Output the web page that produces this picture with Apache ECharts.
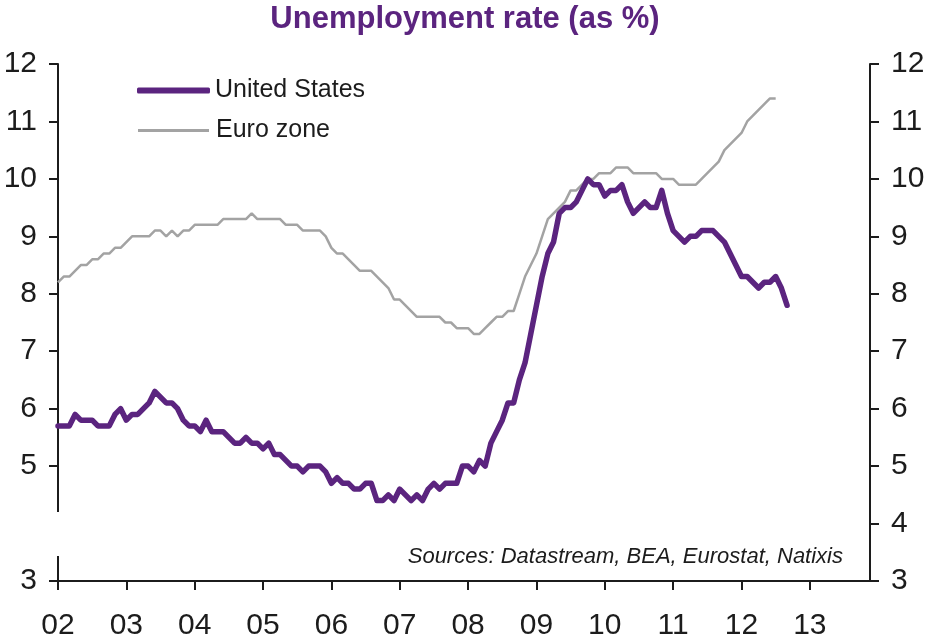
<!DOCTYPE html>
<html>
<head>
<meta charset="utf-8">
<script src="https://cdn.jsdelivr.net/npm/echarts@6/dist/echarts.min.js"></script>
<style>
  html, body { margin: 0; padding: 0; background: #fff; }
  #chart { width: 930px; height: 642px; }
</style>
</head>
<body>
<div id="chart"></div>
<script>
// monthly data, Jan 2002 onwards
const startYear = 2002
const usRate = [
  5.7, 5.7, 5.7, 5.9, 5.8, 5.8, 5.8, 5.7, 5.7, 5.7, 5.9, 6.0,
  5.8, 5.9, 5.9, 6.0, 6.1, 6.3, 6.2, 6.1, 6.1, 6.0, 5.8, 5.7,
  5.7, 5.6, 5.8, 5.6, 5.6, 5.6, 5.5, 5.4, 5.4, 5.5, 5.4, 5.4,
  5.3, 5.4, 5.2, 5.2, 5.1, 5.0, 5.0, 4.9, 5.0, 5.0, 5.0, 4.9,
  4.7, 4.8, 4.7, 4.7, 4.6, 4.6, 4.7, 4.7, 4.4, 4.4, 4.5, 4.4,
  4.6, 4.5, 4.4, 4.5, 4.4, 4.6, 4.7, 4.6, 4.7, 4.7, 4.7, 5.0,
  5.0, 4.9, 5.1, 5.0, 5.4, 5.6, 5.8, 6.1, 6.1, 6.5, 6.8, 7.3,
  7.8, 8.3, 8.7, 8.9, 9.4, 9.5, 9.5, 9.6, 9.8, 10.0, 9.9, 9.9,
  9.7, 9.8, 9.8, 9.9, 9.6, 9.4, 9.5, 9.6, 9.5, 9.5, 9.8, 9.4,
  9.1, 9.0, 8.9, 9.0, 9.0, 9.1, 9.1, 9.1, 9.0, 8.9, 8.7, 8.5,
  8.3, 8.3, 8.2, 8.1, 8.2, 8.2, 8.3, 8.1, 7.8
]
const euroRate = [
  8.2, 8.3, 8.3, 8.4, 8.5, 8.5, 8.6, 8.6, 8.7, 8.7, 8.8, 8.8,
  8.9, 9.0, 9.0, 9.0, 9.0, 9.1, 9.1, 9.0, 9.1, 9.0, 9.1, 9.1,
  9.2, 9.2, 9.2, 9.2, 9.2, 9.3, 9.3, 9.3, 9.3, 9.3, 9.4, 9.3,
  9.3, 9.3, 9.3, 9.3, 9.2, 9.2, 9.2, 9.1, 9.1, 9.1, 9.1, 9.0,
  8.8, 8.7, 8.7, 8.6, 8.5, 8.4, 8.4, 8.4, 8.3, 8.2, 8.1, 7.9,
  7.9, 7.8, 7.7, 7.6, 7.6, 7.6, 7.6, 7.6, 7.5, 7.5, 7.4, 7.4,
  7.4, 7.3, 7.3, 7.4, 7.5, 7.6, 7.6, 7.7, 7.7, 8.0, 8.3, 8.5,
  8.7, 9.0, 9.3, 9.4, 9.5, 9.6, 9.8, 9.8, 9.9, 10.0, 10.0, 10.1,
  10.1, 10.1, 10.2, 10.2, 10.2, 10.1, 10.1, 10.1, 10.1, 10.1, 10.0, 10.0,
  10.0, 9.9, 9.9, 9.9, 9.9, 10.0, 10.1, 10.2, 10.3, 10.5, 10.6, 10.7,
  10.8, 11.0, 11.1, 11.2, 11.3, 11.4, 11.4
]
const yearLabels = ['02', '03', '04', '05', '06', '07', '08', '09', '10', '11', '12', '13']

const PURPLE = '#5b247f'
const GREY = '#a3a3a3'
const INK = '#1c1c1c'
const FONT = "'Liberation Sans', Arial, sans-serif"

// x as fractional year
function toPoints(values) {
  return values.map((v, i) => [startYear + i / 12, v])
}

const chart = echarts.init(document.getElementById('chart'), null, { renderer: 'canvas' })

const yAxisCommon = {
  type: 'value',
  min: 3,
  max: 12,
  interval: 1,
  splitLine: { show: false },
  axisLine: { show: true, lineStyle: { color: INK, width: 2 } },
  axisTick: { show: true, inside: false, length: 9, lineStyle: { color: INK, width: 2 } },
  axisLabel: { color: INK, fontSize: 30, fontFamily: FONT, margin: 21 }
}

chart.setOption({
  animation: false,
  backgroundColor: '#fff',
  title: {
    text: 'Unemployment rate (as %)',
    left: 'center',
    top: -1,
    textStyle: { color: PURPLE, fontSize: 31, fontWeight: 'bold', fontFamily: FONT }
  },
  legend: [{
    left: 132,
    top: 73,
    data: [{ name: 'United States', icon: 'roundRect' }],
    itemWidth: 73,
    itemHeight: 6,
    textStyle: { color: INK, fontSize: 25, fontFamily: FONT, padding: [0, 0, 0, 0] }
  }, {
    left: 133,
    top: 113,
    data: [{ name: 'Euro zone', icon: 'rect' }],
    itemWidth: 71,
    itemHeight: 3,
    textStyle: { color: INK, fontSize: 25, fontFamily: FONT, padding: [0, 0, 0, 2] }
  }],
  grid: { left: 58, right: 60, top: 64, bottom: 61 },
  xAxis: {
    type: 'value',
    min: 2002,
    max: 2013.88,
    interval: 1,
    splitLine: { show: false },
    axisLine: { lineStyle: { color: INK, width: 2 } },
    axisTick: { inside: false, length: 9, lineStyle: { color: INK, width: 2 } },
    axisLabel: {
      color: INK,
      fontSize: 30,
      fontFamily: FONT,
      margin: 30,
      showMaxLabel: false,
      formatter: v => {
        const idx = Math.round(v) - startYear
        return Math.abs(v - Math.round(v)) < 1e-6 ? (yearLabels[idx] || '') : ''
      }
    }
  },
  yAxis: [
    Object.assign({}, yAxisCommon, {
      position: 'left',
      axisLabel: Object.assign({}, yAxisCommon.axisLabel, {
        // 4 is missing on the left scale
        formatter: v => (v === 4 ? '' : String(v))
      })
    }),
    Object.assign({}, yAxisCommon, { position: 'right' })
  ],
  series: [{
    name: 'Euro zone',
    type: 'line',
    yAxisIndex: 1,
    showSymbol: false,
    symbol: 'none',
    data: toPoints(euroRate),
    lineStyle: { color: GREY, width: 2.5 },
    itemStyle: { color: GREY },
    z: 2
  }, {
    name: 'United States',
    type: 'line',
    showSymbol: false,
    symbol: 'none',
    data: toPoints(usRate),
    lineStyle: { color: PURPLE, width: 5.5, join: 'round', cap: 'round' },
    itemStyle: { color: PURPLE },
    z: 3
  }],
  graphic: [{
    // break in the left axis line
    type: 'rect',
    z: 100,
    shape: { x: 46, y: 512, width: 16, height: 44 },
    style: { fill: '#fff' }
  }, {
    type: 'text',
    z: 100,
    x: 843,
    y: 568,
    style: {
      text: 'Sources: Datastream, BEA, Eurostat, Natixis',
      align: 'right',
      verticalAlign: 'bottom',
      fill: INK,
      font: 'italic 22px ' + FONT
    }
  }]
})
</script>
</body>
</html>
